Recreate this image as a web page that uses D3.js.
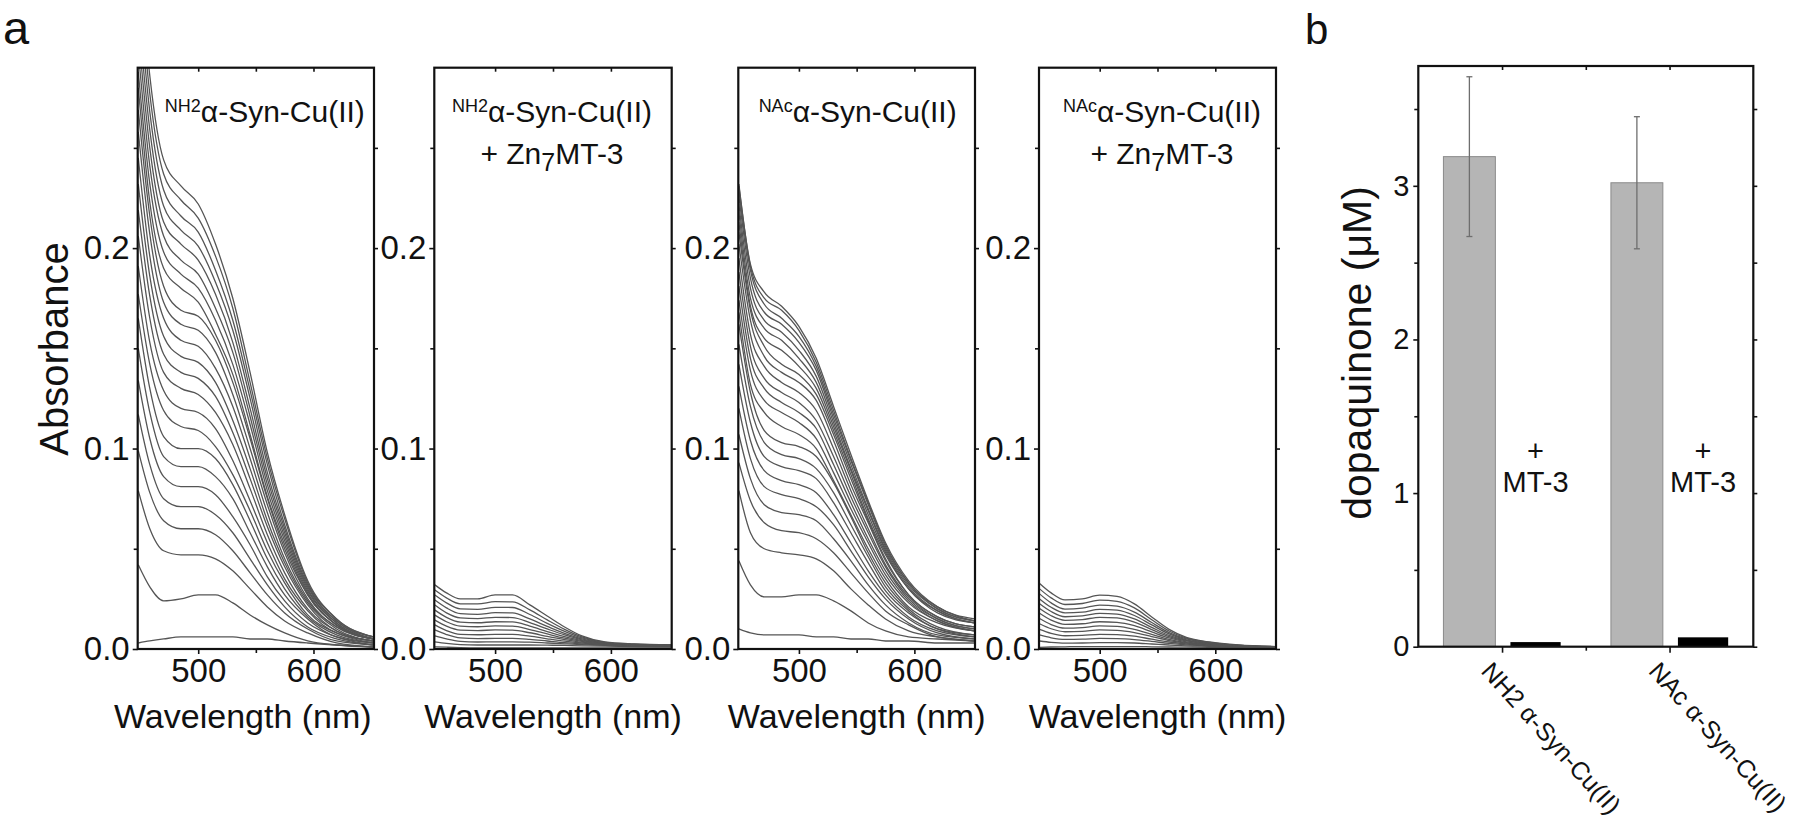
<!DOCTYPE html>
<html><head><meta charset="utf-8">
<script src="https://cdn.jsdelivr.net/npm/d3@7"></script>
<style>body{margin:0;background:#fff}svg{display:block}</style>
</head><body>
<svg id="c" width="1800" height="839"></svg>
<script>
// ---------------- DATA ----------------
const wavelengths = [448,458,470,485,500,515,530,545,560,575,595,620,652];

const nh2Spectra = [
[0.003,0.004,0.005,0.006,0.006,0.006,0.006,0.005,0.005,0.004,0.003,0.002,0.001],
[0.042,0.031,0.024,0.025,0.027,0.027,0.023,0.017,0.012,0.008,0.004,0.002,0.001],
[0.079,0.060,0.049,0.047,0.047,0.045,0.039,0.030,0.021,0.014,0.008,0.003,0.001],
[0.099,0.078,0.064,0.060,0.060,0.057,0.049,0.038,0.027,0.018,0.010,0.004,0.002],
[0.117,0.092,0.075,0.071,0.071,0.067,0.058,0.045,0.032,0.021,0.011,0.005,0.002],
[0.134,0.105,0.086,0.081,0.081,0.077,0.066,0.052,0.036,0.024,0.013,0.006,0.002],
[0.150,0.118,0.096,0.091,0.091,0.086,0.075,0.058,0.041,0.027,0.015,0.006,0.003],
[0.165,0.130,0.106,0.100,0.100,0.095,0.082,0.064,0.045,0.030,0.016,0.007,0.003],
[0.177,0.142,0.119,0.111,0.109,0.101,0.087,0.069,0.049,0.033,0.017,0.008,0.003],
[0.191,0.153,0.129,0.120,0.118,0.110,0.094,0.074,0.053,0.035,0.019,0.008,0.004],
[0.206,0.165,0.138,0.130,0.127,0.118,0.102,0.080,0.057,0.038,0.020,0.009,0.004],
[0.219,0.176,0.147,0.138,0.135,0.126,0.108,0.085,0.061,0.041,0.022,0.009,0.004],
[0.232,0.186,0.156,0.146,0.143,0.133,0.114,0.090,0.064,0.043,0.023,0.010,0.004],
[0.245,0.196,0.165,0.154,0.151,0.140,0.121,0.095,0.068,0.045,0.024,0.011,0.005],
[0.258,0.207,0.173,0.162,0.159,0.148,0.127,0.100,0.072,0.048,0.025,0.011,0.005],
[0.269,0.216,0.181,0.169,0.166,0.154,0.133,0.105,0.075,0.050,0.027,0.012,0.005],
[0.280,0.223,0.190,0.180,0.173,0.157,0.137,0.107,0.076,0.052,0.027,0.012,0.005],
[0.288,0.232,0.198,0.187,0.180,0.164,0.142,0.112,0.079,0.054,0.028,0.012,0.005],
[0.298,0.241,0.206,0.194,0.187,0.170,0.148,0.116,0.082,0.056,0.029,0.013,0.005],
[0.308,0.250,0.213,0.202,0.194,0.177,0.153,0.120,0.085,0.058,0.030,0.013,0.005],
[0.318,0.259,0.221,0.209,0.201,0.183,0.159,0.125,0.088,0.060,0.031,0.014,0.005],
[0.329,0.268,0.229,0.216,0.208,0.189,0.164,0.129,0.092,0.062,0.032,0.014,0.006],
[0.340,0.277,0.237,0.224,0.215,0.196,0.170,0.133,0.095,0.065,0.033,0.015,0.006],
[0.351,0.286,0.244,0.231,0.222,0.202,0.175,0.138,0.098,0.067,0.034,0.015,0.006]
];

const nh2MtSpectra = [
[0.0320,0.0280,0.0250,0.0250,0.0270,0.0270,0.0220,0.0165,0.0110,0.0065,0.0035,0.0025,0.0020],
[0.0294,0.0255,0.0225,0.0225,0.0236,0.0235,0.0195,0.0145,0.0098,0.0060,0.0033,0.0024,0.0020],
[0.0269,0.0230,0.0200,0.0198,0.0208,0.0207,0.0172,0.0128,0.0088,0.0055,0.0031,0.0023,0.0019],
[0.0244,0.0205,0.0176,0.0173,0.0181,0.0180,0.0150,0.0113,0.0078,0.0050,0.0030,0.0022,0.0018],
[0.0219,0.0180,0.0155,0.0152,0.0158,0.0157,0.0132,0.0100,0.0070,0.0046,0.0028,0.0021,0.0018],
[0.0194,0.0158,0.0134,0.0131,0.0136,0.0135,0.0114,0.0087,0.0062,0.0042,0.0027,0.0020,0.0017],
[0.0169,0.0136,0.0114,0.0111,0.0115,0.0114,0.0097,0.0075,0.0054,0.0038,0.0025,0.0019,0.0016],
[0.0144,0.0114,0.0094,0.0092,0.0095,0.0094,0.0081,0.0063,0.0047,0.0034,0.0024,0.0018,0.0016],
[0.0120,0.0092,0.0073,0.0071,0.0073,0.0073,0.0064,0.0051,0.0039,0.0030,0.0022,0.0017,0.0015],
[0.0095,0.0072,0.0055,0.0052,0.0053,0.0053,0.0048,0.0040,0.0032,0.0026,0.0020,0.0016,0.0014],
[0.0065,0.0050,0.0038,0.0035,0.0036,0.0036,0.0034,0.0030,0.0026,0.0022,0.0018,0.0015,0.0013],
[0.0036,0.0028,0.0022,0.0020,0.0020,0.0020,0.0020,0.0019,0.0018,0.0016,0.0014,0.0012,0.0011],
[0.0011,0.0009,0.0007,0.0006,0.0006,0.0006,0.0006,0.0006,0.0006,0.0006,0.0006,0.0006,0.0006]
];

const nacSpectra = [
[0.010,0.008,0.007,0.007,0.007,0.006,0.006,0.005,0.005,0.004,0.004,0.003,0.003],
[0.044,0.032,0.026,0.026,0.027,0.027,0.024,0.019,0.013,0.009,0.006,0.005,0.004],
[0.079,0.058,0.050,0.048,0.047,0.045,0.039,0.030,0.022,0.015,0.009,0.006,0.004],
[0.093,0.074,0.063,0.059,0.058,0.055,0.048,0.038,0.028,0.019,0.012,0.006,0.004],
[0.107,0.085,0.072,0.068,0.067,0.064,0.055,0.044,0.032,0.022,0.013,0.007,0.005],
[0.120,0.095,0.081,0.077,0.075,0.071,0.062,0.049,0.036,0.025,0.015,0.008,0.005],
[0.131,0.104,0.089,0.084,0.082,0.078,0.067,0.053,0.039,0.027,0.016,0.009,0.006],
[0.142,0.113,0.096,0.091,0.089,0.085,0.073,0.058,0.043,0.029,0.018,0.010,0.006],
[0.152,0.121,0.103,0.097,0.095,0.090,0.078,0.062,0.046,0.031,0.019,0.010,0.007],
[0.162,0.128,0.109,0.103,0.101,0.096,0.083,0.066,0.048,0.033,0.020,0.011,0.007],
[0.168,0.132,0.118,0.111,0.107,0.100,0.084,0.067,0.050,0.035,0.021,0.013,0.009],
[0.174,0.139,0.124,0.118,0.113,0.105,0.088,0.070,0.053,0.037,0.023,0.014,0.009],
[0.181,0.145,0.130,0.123,0.118,0.110,0.092,0.073,0.055,0.039,0.024,0.014,0.009],
[0.188,0.151,0.135,0.128,0.123,0.114,0.096,0.076,0.058,0.041,0.025,0.015,0.010],
[0.195,0.157,0.141,0.133,0.128,0.119,0.100,0.079,0.060,0.042,0.026,0.015,0.010],
[0.202,0.164,0.146,0.138,0.133,0.124,0.104,0.082,0.063,0.044,0.027,0.016,0.011],
[0.208,0.169,0.151,0.142,0.137,0.127,0.107,0.085,0.064,0.045,0.027,0.016,0.011],
[0.213,0.171,0.155,0.149,0.141,0.130,0.109,0.087,0.065,0.047,0.030,0.018,0.013],
[0.218,0.175,0.160,0.154,0.145,0.133,0.111,0.089,0.067,0.048,0.030,0.019,0.013],
[0.222,0.180,0.164,0.158,0.149,0.136,0.113,0.090,0.069,0.049,0.031,0.019,0.013],
[0.226,0.185,0.168,0.162,0.153,0.139,0.115,0.092,0.070,0.050,0.032,0.020,0.014],
[0.229,0.189,0.172,0.165,0.156,0.141,0.117,0.094,0.072,0.051,0.033,0.020,0.014],
[0.231,0.191,0.175,0.169,0.159,0.143,0.119,0.095,0.073,0.052,0.033,0.021,0.014],
[0.232,0.192,0.178,0.171,0.161,0.145,0.121,0.097,0.074,0.053,0.034,0.021,0.015]
];

const nacMtSpectra = [
[0.0327,0.0280,0.0245,0.0250,0.0269,0.0262,0.0225,0.0160,0.0098,0.0058,0.0035,0.0020,0.0012],
[0.0300,0.0255,0.0222,0.0227,0.0244,0.0238,0.0205,0.0146,0.0090,0.0054,0.0033,0.0019,0.0012],
[0.0275,0.0230,0.0199,0.0204,0.0219,0.0214,0.0184,0.0132,0.0082,0.0050,0.0031,0.0018,0.0011],
[0.0250,0.0208,0.0180,0.0184,0.0198,0.0194,0.0167,0.0120,0.0075,0.0046,0.0029,0.0017,0.0011],
[0.0226,0.0187,0.0161,0.0165,0.0178,0.0174,0.0150,0.0108,0.0068,0.0043,0.0027,0.0016,0.0010],
[0.0202,0.0166,0.0143,0.0147,0.0158,0.0155,0.0134,0.0097,0.0062,0.0040,0.0026,0.0015,0.0010],
[0.0178,0.0144,0.0123,0.0126,0.0136,0.0133,0.0116,0.0085,0.0055,0.0036,0.0024,0.0014,0.0010],
[0.0152,0.0122,0.0104,0.0107,0.0115,0.0113,0.0098,0.0073,0.0048,0.0032,0.0022,0.0013,0.0009],
[0.0126,0.0101,0.0086,0.0088,0.0095,0.0093,0.0082,0.0062,0.0042,0.0029,0.0020,0.0012,0.0009],
[0.0098,0.0078,0.0066,0.0068,0.0073,0.0072,0.0064,0.0049,0.0035,0.0025,0.0018,0.0011,0.0008],
[0.0070,0.0056,0.0048,0.0049,0.0053,0.0052,0.0047,0.0038,0.0028,0.0021,0.0016,0.0010,0.0008],
[0.0040,0.0033,0.0029,0.0030,0.0032,0.0032,0.0030,0.0025,0.0020,0.0016,0.0013,0.0009,0.0007],
[0.0008,0.0010,0.0011,0.0012,0.0012,0.0012,0.0012,0.0011,0.0010,0.0009,0.0008,0.0007,0.0006]
];

const absTicks = [0, 0.1, 0.2];
const absMinorTicks = [0.05, 0.15, 0.25];
const wlTicks = [500, 600];
const wlMinorTicks = [550];
const panelPrefixes = ["NH2", "NH2", "NAc", "NAc"];
const panelMainTitle = "α-Syn-Cu(II)";
const panelHasMT = [false, true, false, true];
const mtLine = ["+ Zn", "7", "MT-3"];

const barCategories = ["NH2 α-Syn-Cu(II)", "NAc α-Syn-Cu(II)"];
const dqWithoutMT = [3.19, 3.02];
const dqWithoutMTErr = [0.52, 0.43];
const dqWithMT = [0.03, 0.061];
const dqTicks = [0, 1, 2, 3];
const dqMinorTicks = [0.5, 1.5, 2.5, 3.5];
const barXTicks = [1, 2];
const barXMinorTicks = [1.5];

// ---------------- LAYOUT ----------------
const FONT = '"Liberation Sans", Arial, Helvetica, sans-serif';
const svg = d3.select("#c");
const specTop = 67.7, specBottom = 649;
const specLayout = [
  {x0:137.7, x1:374,   headDx:9,   labDx:-13},
  {x0:434.3, x1:671.7, headDx:-1,  labDx:0},
  {x0:738.3, x1:975,   headDx:1,   labDx:0},
  {x0:1039,  x1:1276,  headDx:4.5, labDx:0}
];
const specData = [nh2Spectra, nh2MtSpectra, nacSpectra, nacMtSpectra];

function drawAxis(g, gen, tr, vals, size, fmt, fs, pad) {
  const a = g.append("g").attr("transform", tr)
    .call(gen.tickValues(vals).tickSize(size).tickSizeOuter(0).tickPadding(pad).tickFormat(fmt));
  a.select(".domain").remove();
  a.selectAll("line").attr("stroke", "#111").attr("stroke-width", 1.6);
  a.selectAll("text").attr("font-size", fs).attr("font-family", FONT).attr("fill", "#111");
  return a;
}
const none = () => "";

specLayout.forEach((p, i) => {
  const x = d3.scaleLinear().domain([447.5, 652.5]).range([p.x0, p.x1]);
  const y = d3.scaleLinear().domain([0, 0.29]).range([specBottom, specTop]);
  const g = svg.append("g");
  svg.append("clipPath").attr("id", "clip" + i).append("rect")
    .attr("x", p.x0).attr("y", specTop).attr("width", p.x1 - p.x0).attr("height", specBottom - specTop);
  const line = d3.line().x((d, j) => x(wavelengths[j])).y(d => y(d)).curve(d3.curveMonotoneX);
  g.append("g").attr("clip-path", `url(#clip${i})`)
    .selectAll("path").data(specData[i]).join("path")
    .attr("d", line).attr("fill", "none").attr("stroke", "#555").attr("stroke-width", 1.3);

  // axes
  drawAxis(g, d3.axisLeft(y), `translate(${p.x0},0)`, absTicks, 5, d3.format(".1f"), 33, 3);
  drawAxis(g, d3.axisLeft(y), `translate(${p.x0},0)`, absMinorTicks, 4, none, 10, 0);
  drawAxis(g, d3.axisLeft(y), `translate(${p.x1},0)`, absTicks.concat(absMinorTicks), -4, none, 10, 0);
  drawAxis(g, d3.axisBottom(x), `translate(0,${specBottom})`, wlTicks, 5, d3.format("d"), 33, 5);
  drawAxis(g, d3.axisBottom(x), `translate(0,${specBottom})`, wlMinorTicks, 4, none, 10, 0);
  drawAxis(g, d3.axisBottom(x), `translate(0,${specTop})`, wlTicks.concat(wlMinorTicks), 4, none, 10, 0);

  g.append("rect").attr("x", p.x0).attr("y", specTop).attr("width", p.x1 - p.x0).attr("height", specBottom - specTop)
    .attr("fill", "none").attr("stroke", "#111").attr("stroke-width", 2.2);

  // x label
  g.append("text").attr("x", (p.x0 + p.x1) / 2 + p.labDx).attr("y", 728)
    .attr("text-anchor", "middle").attr("font-size", 34).attr("font-family", FONT).attr("fill", "#111")
    .text("Wavelength (nm)");

  // titles
  const cx = (p.x0 + p.x1) / 2 + p.headDx;
  const t = g.append("text").attr("x", cx).attr("y", 121.5).attr("text-anchor", "middle")
    .attr("font-size", 30).attr("font-family", FONT).attr("fill", "#111");
  t.append("tspan").attr("font-size", 18).attr("dy", -10).text(panelPrefixes[i]);
  t.append("tspan").attr("dy", 10).text(panelMainTitle);
  if (panelHasMT[i]) {
    const t2 = g.append("text").attr("x", cx).attr("y", 163.5).attr("text-anchor", "middle")
      .attr("font-size", 30).attr("font-family", FONT).attr("fill", "#111");
    t2.append("tspan").text(mtLine[0]);
    t2.append("tspan").attr("font-size", 25).attr("dy", 7).text(mtLine[1]);
    t2.append("tspan").attr("dy", -7).text(mtLine[2]);
  }
});

// y label a
svg.append("text").attr("transform", "translate(68,349) rotate(-90)").attr("text-anchor", "middle")
  .attr("font-size", 40).attr("font-family", FONT).attr("fill", "#111").text("Absorbance");

// panel letters
svg.append("text").attr("x", 3).attr("y", 44).attr("font-size", 47).attr("font-family", FONT).attr("fill", "#111").text("a");
svg.append("text").attr("x", 1305).attr("y", 44).attr("font-size", 42).attr("font-family", FONT).attr("fill", "#111").text("b");

// ---------------- PANEL b ----------------
const bL = 1418.3, bR = 1753.3, bT = 66, bB = 646.7;
const bx = d3.scaleLinear().domain([0.5, 2.5]).range([bL, bR]);
const by = d3.scaleLinear().domain([0, 3.78]).range([bB, bT]);
const gb = svg.append("g");

// gray bars
gb.selectAll("rect.gray").data(dqWithoutMT).join("rect").attr("class", "gray")
  .attr("x", (d, i) => bx(i + 1 - 0.35)).attr("width", (d, i) => bx(i + 1 - 0.04) - bx(i + 1 - 0.35))
  .attr("y", d => by(d)).attr("height", d => by(0) - by(d))
  .attr("fill", "#b5b5b5").attr("stroke", "#8a8a8a").attr("stroke-width", 1);
// error bars
dqWithoutMT.forEach((v, i) => {
  const cx = bx(i + 1 - 0.195), e = dqWithoutMTErr[i];
  gb.append("line").attr("x1", cx).attr("x2", cx).attr("y1", by(v - e)).attr("y2", by(v + e))
    .attr("stroke", "#6e6e6e").attr("stroke-width", 1.3);
  [v - e, v + e].forEach(w => gb.append("line").attr("x1", cx - 3).attr("x2", cx + 3)
    .attr("y1", by(w)).attr("y2", by(w)).attr("stroke", "#6e6e6e").attr("stroke-width", 1.3));
});
// black bars
gb.selectAll("rect.black").data(dqWithMT).join("rect").attr("class", "black")
  .attr("x", (d, i) => bx(i + 1 + 0.05)).attr("width", (d, i) => bx(i + 1 + 0.35) - bx(i + 1 + 0.05))
  .attr("y", d => by(d)).attr("height", d => by(0) - by(d)).attr("fill", "#000");

// + MT-3 labels
dqWithMT.forEach((v, i) => {
  const cx = bx(i + 1 + 0.2);
  gb.append("text").attr("x", cx).attr("y", 461).attr("text-anchor", "middle").attr("font-size", 29)
    .attr("font-family", FONT).attr("fill", "#111").text("+");
  gb.append("text").attr("x", cx).attr("y", 492).attr("text-anchor", "middle").attr("font-size", 29)
    .attr("font-family", FONT).attr("fill", "#111").text("MT-3");
});

// axes b
drawAxis(gb, d3.axisLeft(by), `translate(${bL},0)`, dqTicks, 5, d3.format("d"), 29, 4);
drawAxis(gb, d3.axisLeft(by), `translate(${bL},0)`, dqMinorTicks, 4, none, 10, 0);
drawAxis(gb, d3.axisRight(by), `translate(${bR},0)`, dqTicks.concat(dqMinorTicks), 4, none, 10, 0);
drawAxis(gb, d3.axisBottom(bx), `translate(0,${bB})`, barXTicks, 6, none, 10, 0);
drawAxis(gb, d3.axisBottom(bx), `translate(0,${bB})`, barXMinorTicks, 4, none, 10, 0);
drawAxis(gb, d3.axisBottom(bx), `translate(0,${bT})`, barXTicks.concat(barXMinorTicks), 4, none, 10, 0);
gb.append("rect").attr("x", bL).attr("y", bT).attr("width", bR - bL).attr("height", bB - bT)
  .attr("fill", "none").attr("stroke", "#111").attr("stroke-width", 2.2);

// category labels
barCategories.forEach((c, i) => {
  gb.append("text").attr("transform", `translate(${bx(i + 1) - 22},672) rotate(48)`)
    .attr("font-size", 25).attr("font-family", FONT).attr("fill", "#111").text(c);
});

// y label b
svg.append("text").attr("transform", "translate(1371,353) rotate(-90)").attr("text-anchor", "middle")
  .attr("font-size", 41).attr("font-family", FONT).attr("fill", "#111").text("dopaquinone (μM)");
</script>
</body></html>
